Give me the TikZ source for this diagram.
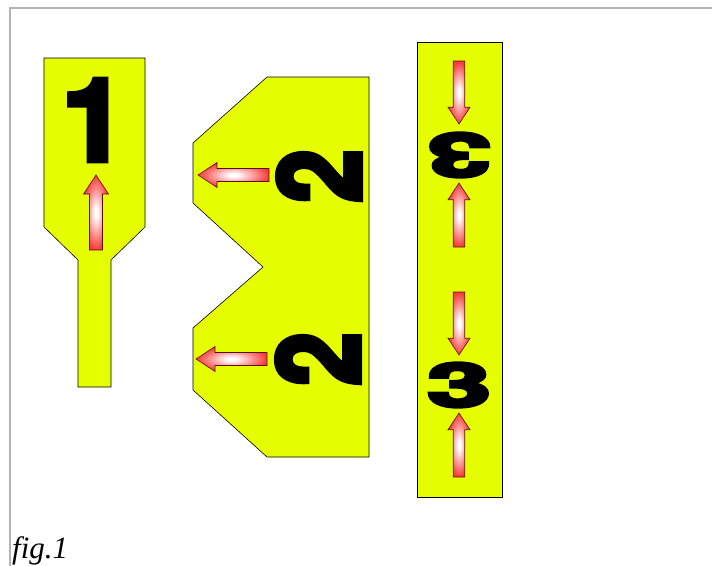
\documentclass[tikz,border=0pt]{standalone}
\usepackage{fontspec}
\setmainfont{Liberation Serif}
\newfontfamily\heavyfont[BoldFeatures={FakeBold=5}]{TeX Gyre Heros}
\usetikzlibrary{calc}
\definecolor{plateyellow}{HTML}{E6FF00}
\definecolor{pushred}{HTML}{F53A3A}
\definecolor{pushedge}{HTML}{5A1010}
\definecolor{framegray}{HTML}{B4B4B4}
\pgfdeclareradialshading{pushglow}{\pgfpoint{0bp}{0bp}}{%
  color(0bp)=(white); color(3bp)=(white); color(25bp)=(pushred); color(100bp)=(pushred)}
\tikzset{
  plate/.style  ={draw=black, fill=plateyellow, line width=0.6pt, line join=miter},
  digit/.style  ={inner sep=0pt, text=black, font=\heavyfont\bfseries\fontsize{114}{114}\selectfont},
  push/.style   ={draw=pushedge, line width=0.6pt, shading=pushglow},
  frame/.style  ={draw=framegray, line width=2.2pt},
  caption/.style={inner sep=0pt, font=\itshape\fontsize{31}{31}\selectfont},
}
% one pushing arrow: tip, direction, length, size
\newcommand{\pusharrow}[4]{%
  \begin{scope}[shift={(#1)}, rotate=#2]
    \shade[push] (0,0) -- (-19*#4,12.5*#4) -- (-19*#4,6.5*#4) -- (-#3,6.5*#4)
      -- (-#3,-6.5*#4) -- (-19*#4,-6.5*#4) -- (-19*#4,-12.5*#4) -- cycle;
  \end{scope}}
\def\pushlist{96/175/90/75/1, 198/175/180/71/1, 196/359/180/71/1,
  459/124/270/63/0.88, 459/183/90/64/0.88, 459/355/270/63/0.88, 459/413/90/64/0.88}

\begin{document}
\begin{tikzpicture}[x=1pt,y=-1pt]
  \useasboundingbox (0,0) rectangle (712,565);
  \draw[frame] (10,566) -- (10,8) -- (713,8);
  % the three plates
  \draw[plate] (44,58) -- (145,58) -- (145,227) -- (111,260) -- (111,387)
    -- (78,387) -- (78,260) -- (44,227) -- cycle;
  \draw[plate] (267,77) -- (369,77) -- (369,457) -- (267,457) -- (193,390)
    -- (193,328) -- (263,267) -- (193,203) -- (193,143) -- cycle;
  \draw[plate] (417,42) rectangle (502,497);
  % digits
  \node[digit] (digA) at (94,120) {1};
  \node[digit, rotate=90, xscale=0.84] (digB) at (319,176) {2};
  \node[digit, rotate=90, xscale=0.84] (digC) at (318,359) {2};
  \node[digit, rotate=180, yscale=0.53] (digD) at (459,155) {3};
  \node[digit, yscale=0.53] (digE) at (459,385) {3};
  % arrows
  \foreach \x/\y/\dir/\len/\sz in \pushlist {\pusharrow{\x,\y}{\dir}{\len}{\sz}}
  \node[caption, anchor=base west] (figlabel) at (12,558) {fig.1};
\end{tikzpicture}
\end{document}
